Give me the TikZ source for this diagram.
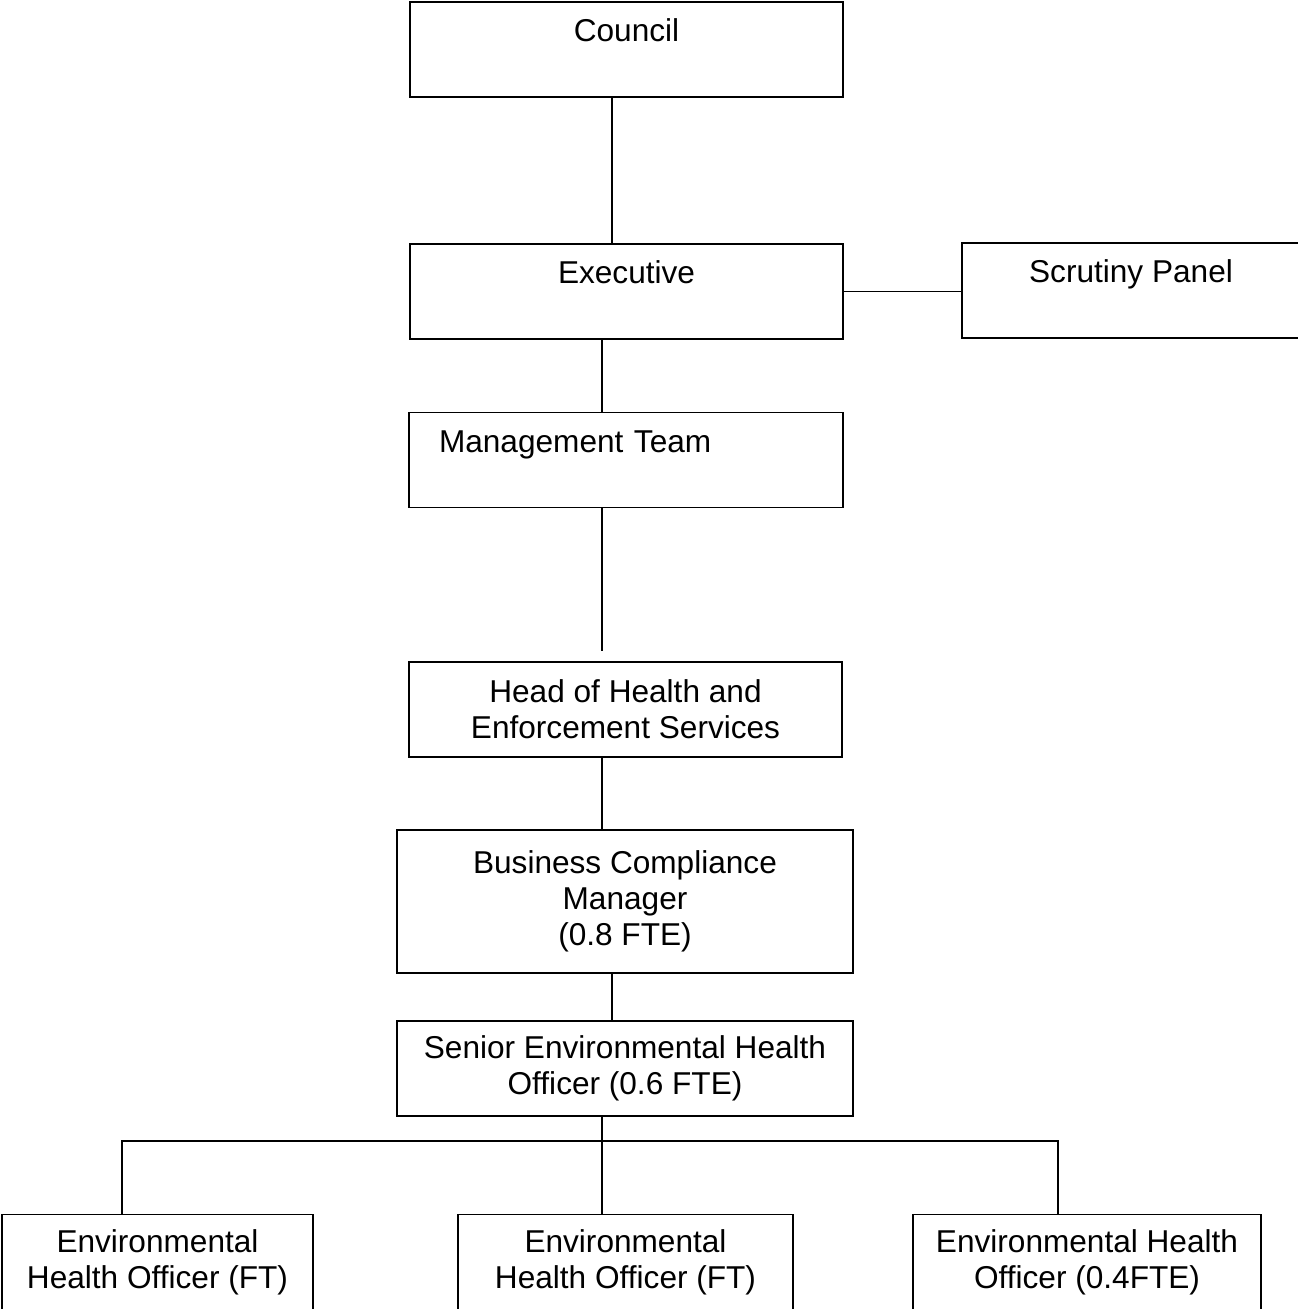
\documentclass[tikz,border=0pt]{standalone}
\usepackage{fontspec}
\setmainfont{Liberation Sans}
\usepackage{tikz}
\usetikzlibrary{calc}

\begin{document}
\begin{tikzpicture}[x=0.5pt,y=-0.5pt,
  unit/.style={draw,line width=0.75pt,inner sep=0pt,align=center,font=\fontsize{15.8pt}{18pt}\selectfont},
  topunit/.style={unit,text height=20pt,text depth=27.5pt},
  link/.style={line width=0.75pt}]
\useasboundingbox (0,0) rectangle (1297,1309);

\coordinate (spineA) at (602,0);
\coordinate (spineB) at (612,0);

\node[topunit,minimum width=216.5pt] (council) at (626.5,49.5) {Council};
\node[topunit,minimum width=216.5pt] (exec) at (626.5,291.5) {Executive};
\node[topunit,minimum width=169pt] (scrutiny) at (1131,290.5) {Scrutiny Panel};
\node[topunit,text width=187pt,align=left,inner xsep=15pt] (mgmt) at (626,460) {Management Team};
\node[unit,minimum width=216.5pt,minimum height=47.5pt] (head) at (625.5,709.5) {Head of Health and\\Enforcement Services};
\node[unit,minimum width=228pt,minimum height=71.5pt] (bcm) at (625,901.5) {Business Compliance\\Manager\\(0.8 FTE)};
\node[unit,minimum width=228pt,minimum height=47.5pt] (seho) at (625,1068.5) {Senior Environmental Health\\Officer (0.6 FTE)};
\node[unit,minimum width=155.5pt,minimum height=47.5pt] (eho1) at (157.5,1262) {Environmental\\Health Officer (FT)};
\node[unit,minimum width=167.5pt,minimum height=47.5pt] (eho2) at (625.5,1262) {Environmental\\Health Officer (FT)};
\node[unit,minimum width=174pt,minimum height=47.5pt] (eho3) at (1087,1262) {Environmental Health\\Officer (0.4FTE)};

\coordinate (busL) at (122,1141);
\coordinate (busM) at (602,1141);
\coordinate (busR) at (1058,1141);

\draw[link] (council.south -| spineB) -- (exec.north -| spineB);
\draw[link] (exec.east) -- (scrutiny.west |- exec.east);
\draw[link] (exec.south -| spineA) -- (mgmt.north -| spineA);
\draw[link] (mgmt.south -| spineA) -- ($(head.north -| spineA)+(0,-10)$);
\draw[link] (head.south -| spineA) -- (bcm.north -| spineA);
\draw[link] (bcm.south -| spineB) -- (seho.north -| spineB);
\draw[link] (seho.south -| busM) -- (busM);
\draw[link] (eho1.north -| busL) -- (busL) -- (busR) -- (eho3.north -| busR);
\draw[link] (busM) -- (eho2.north -| busM);
\end{tikzpicture}
\end{document}
